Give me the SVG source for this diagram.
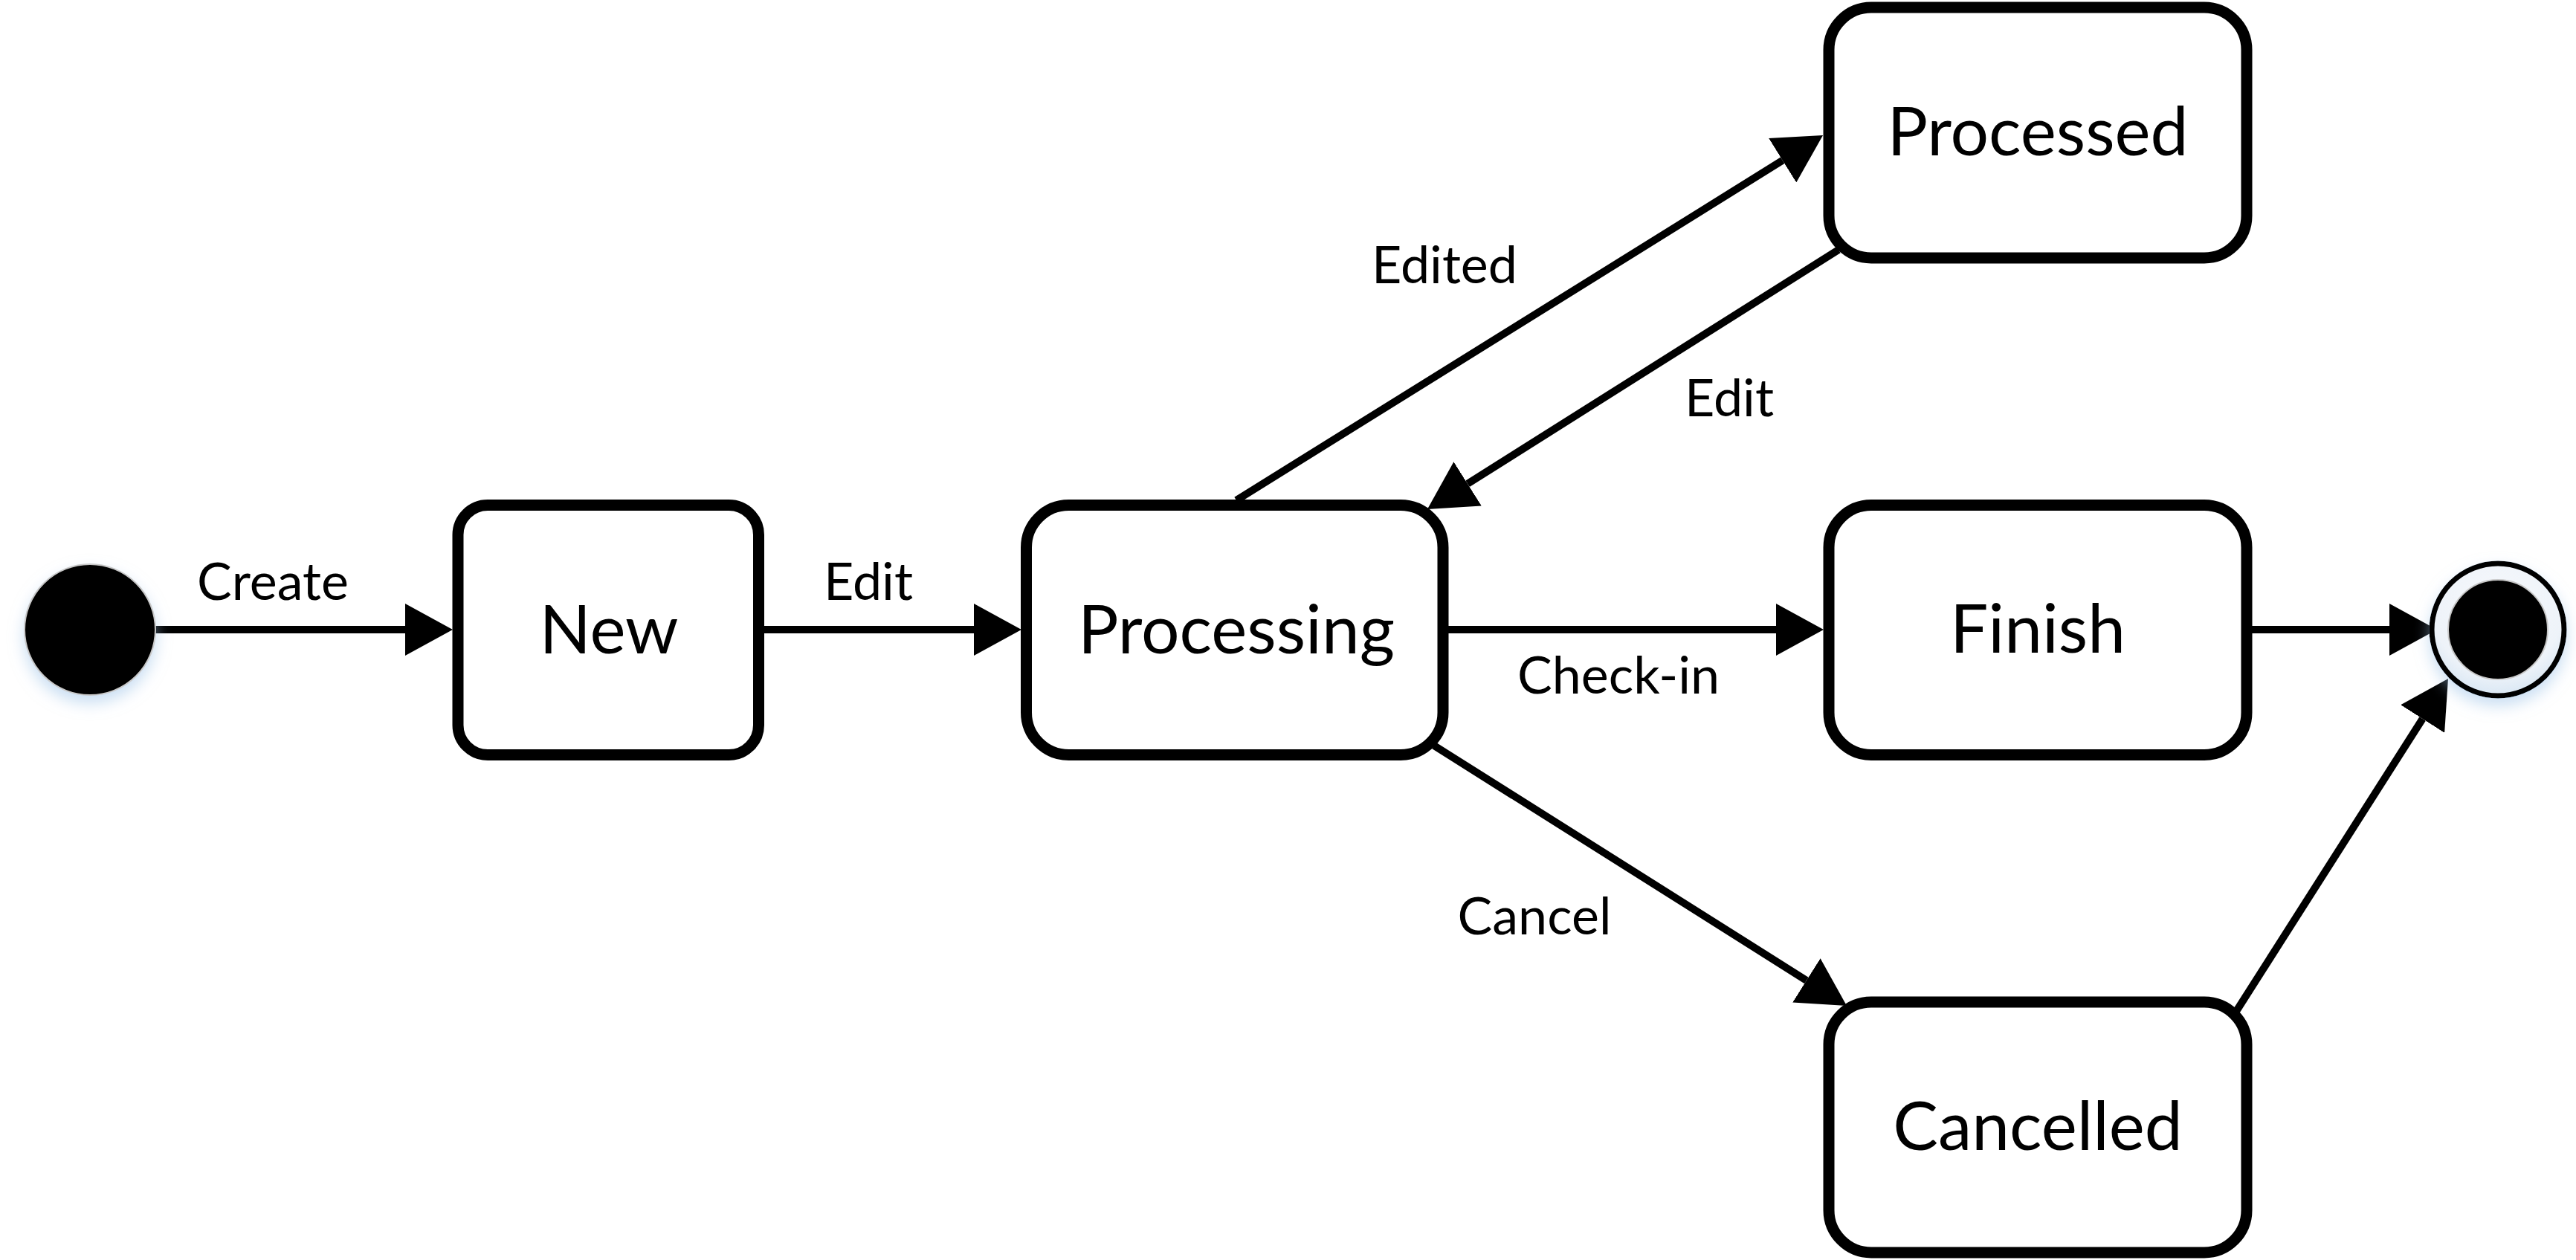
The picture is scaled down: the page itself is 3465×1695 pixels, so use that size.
<svg xmlns="http://www.w3.org/2000/svg" width="3465" height="1695" viewBox="0 0 3465 1695">
  <style>
    .box { fill: #ffffff; stroke: #000000; stroke-width: 15; }
    .conn { stroke: #000000; stroke-width: 10; fill: none; }
    .node-label { font-family: Lato, "Liberation Sans", sans-serif; font-size: 91px; fill: #000000; text-anchor: middle; }
    .edge-label { font-family: Lato, "Liberation Sans", sans-serif; font-size: 70px; fill: #000000; text-anchor: middle; }
  </style>
  <defs>
    <marker id="arrow" markerUnits="userSpaceOnUse" markerWidth="64" markerHeight="70" viewBox="0 0 64 70" refX="0" refY="35" orient="auto">
      <path d="M0,0 L64,35 L0,70 Z" fill="#000000"/>
    </marker>
    <filter id="glow" x="-40%" y="-40%" width="180%" height="180%">
      <feDropShadow dx="0" dy="10" stdDeviation="10" flood-color="#9fc4e8" flood-opacity="0.55"/>
    </filter>
    <radialGradient id="ringFill" cx="0.5" cy="0.35" r="0.65">
      <stop offset="0" stop-color="#f7f9fc"/>
      <stop offset="0.75" stop-color="#eef3f9"/>
      <stop offset="1" stop-color="#d9e7f4"/>
    </radialGradient>
  </defs>
  <rect x="0" y="0" width="3465" height="1695" fill="#ffffff"/>

  <g id="connectors">
    <line class="conn" x1="205" y1="847" x2="545" y2="847" marker-end="url(#arrow)"/>
    <line class="conn" x1="1028" y1="847" x2="1310" y2="847" marker-end="url(#arrow)"/>
    <line class="conn" x1="1948" y1="847" x2="2389" y2="847" marker-end="url(#arrow)"/>
    <line class="conn" x1="3029" y1="847" x2="3214" y2="847" marker-end="url(#arrow)"/>
    <line class="conn" x1="1663" y1="673" x2="2397.7" y2="215.8" marker-end="url(#arrow)"/>
    <line class="conn" x1="2473" y1="336" x2="1974.1" y2="650.8" marker-end="url(#arrow)"/>
    <line class="conn" x1="1929" y1="1003" x2="2429.9" y2="1318.9" marker-end="url(#arrow)"/>
    <line class="conn" x1="3007" y1="1362" x2="3258.6" y2="967" marker-end="url(#arrow)"/>
    <text class="edge-label" x="367" y="807">Create</text>
    <text class="edge-label" x="1168" y="807">Edit</text>
    <text class="edge-label" x="1943" y="381">Edited</text>
    <text class="edge-label" x="2326" y="560">Edit</text>
    <text class="edge-label" x="2177" y="933">Check-in</text>
    <text class="edge-label" x="2064" y="1257">Cancel</text>
  </g>

  <g id="start">
    <circle cx="121" cy="847" r="88" fill="#000000" stroke="#c8c8c8" stroke-width="2" filter="url(#glow)"/>
  </g>

  <g id="new">
    <rect class="box" x="616" y="679.5" width="404.5" height="336" rx="40" ry="40"/>
    <text class="node-label" x="819" y="879">New</text>
  </g>

  <g id="processing">
    <rect class="box" x="1380.5" y="679.5" width="560.5" height="336" rx="57" ry="57"/>
    <text class="node-label" x="1663" y="879">Processing</text>
  </g>

  <g id="processed">
    <rect class="box" x="2460" y="10" width="562" height="337" rx="57" ry="57"/>
    <text class="node-label" x="2741" y="209">Processed</text>
  </g>

  <g id="finish">
    <rect class="box" x="2460" y="679.5" width="562" height="336" rx="57" ry="57"/>
    <text class="node-label" x="2741" y="878">Finish</text>
  </g>

  <g id="cancelled">
    <rect class="box" x="2460" y="1348" width="562" height="337" rx="57" ry="57"/>
    <text class="node-label" x="2741" y="1547">Cancelled</text>
  </g>

  <g id="end">
    <circle cx="3360" cy="847" r="89" fill="url(#ringFill)" stroke="#000000" stroke-width="7" filter="url(#glow)"/>
    <circle cx="3360" cy="847" r="67" fill="#000000" stroke="#c8c8c8" stroke-width="2"/>
  </g>
</svg>
